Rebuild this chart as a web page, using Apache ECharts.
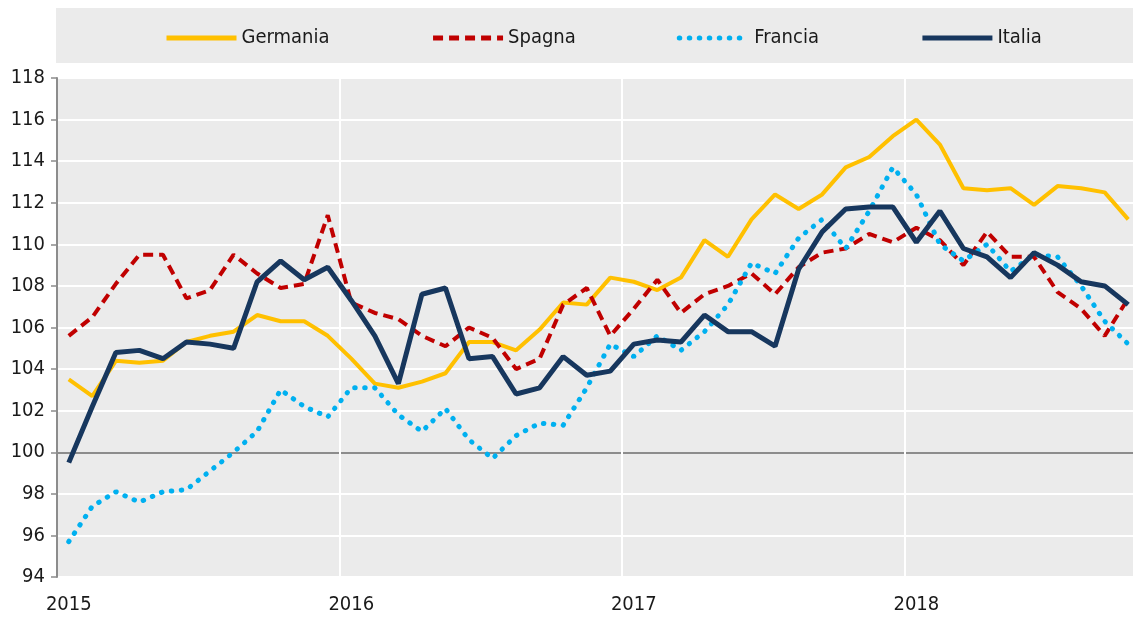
<!DOCTYPE html>
<html>
<head>
<meta charset="utf-8">
<script src="https://cdn.jsdelivr.net/npm/echarts@6/dist/echarts.min.js"></script>
<style>
  html, body { margin: 0; padding: 0; background: #fff; overflow: hidden; }
  #chart { width: 1141px; height: 617px; }
</style>
</head>
<body>
<div id="chart"></div>
<script>
// mesi gen 2015 - ott 2018
var months = [];
for (var y = 2015; y <= 2018; y++) {
  for (var m = 1; m <= 12; m++) {
    if (y === 2018 && m > 10) break;
    months.push(y + '-' + (m < 10 ? '0' + m : m));
  }
}
var yearLabels = ['2015', '2016', '2017', '2018'];

var germania = [103.5, 102.7, 104.4, 104.3, 104.4, 105.3, 105.6, 105.8, 106.6, 106.3, 106.3, 105.6,
  104.5, 103.3, 103.1, 103.4, 103.8, 105.3, 105.3, 104.9, 105.9, 107.2, 107.1, 108.4,
  108.2, 107.8, 108.4, 110.2, 109.4, 111.2, 112.4, 111.7, 112.4, 113.7, 114.2, 115.2,
  116.0, 114.8, 112.7, 112.6, 112.7, 111.9, 112.8, 112.7, 112.5, 111.2];
var spagna = [105.6, 106.5, 108.1, 109.5, 109.5, 107.4, 107.8, 109.5, 108.6, 107.9, 108.1, 111.4,
  107.2, 106.7, 106.4, 105.6, 105.1, 106.0, 105.5, 104.0, 104.5, 107.1, 107.9, 105.6,
  106.9, 108.3, 106.7, 107.6, 108.0, 108.6, 107.6, 108.9, 109.6, 109.8, 110.5, 110.1,
  110.8, 110.2, 109.0, 110.6, 109.4, 109.4, 107.7, 106.9, 105.6, 107.4];
var francia = [95.7, 97.4, 98.1, 97.6, 98.1, 98.2, 99.1, 100.0, 101.0, 103.0, 102.2, 101.7,
  103.1, 103.1, 101.8, 101.0, 102.1, 100.6, 99.7, 100.8, 101.4, 101.3, 103.1, 105.2,
  104.6, 105.6, 104.9, 105.8, 107.1, 109.1, 108.6, 110.3, 111.2, 109.8, 111.6, 113.7,
  112.4, 110.0, 109.2, 110.0, 108.7, 109.5, 109.4, 108.0, 106.3, 105.2];
var italia = [99.5, 102.2, 104.8, 104.9, 104.5, 105.3, 105.2, 105.0, 108.2, 109.2, 108.3, 108.9,
  107.3, 105.6, 103.3, 107.6, 107.9, 104.5, 104.6, 102.8, 103.1, 104.6, 103.7, 103.9,
  105.2, 105.4, 105.3, 106.6, 105.8, 105.8, 105.1, 108.8, 110.6, 111.7, 111.8, 111.8,
  110.1, 111.6, 109.8, 109.4, 108.4, 109.6, 109.0, 108.2, 108.0, 107.1];

var fontFam = '"Liberation Sans Narrow", "Arial Narrow", "DejaVu Sans Condensed", sans-serif';

// linee orizzontali: la 100 in grigio
var splitColors = [];
for (var v = 94; v <= 118; v += 2) splitColors.push(v === 100 ? '#8c8c8c' : '#ffffff');

var option = {
  animation: false,
  backgroundColor: '#fff',
  textStyle: { fontFamily: fontFam },
  graphic: [{
    type: 'rect',
    z: -10,
    shape: { x: 56, y: 8, width: 1090, height: 55 },
    style: { fill: '#ebebeb' }
  }],
  legend: {
    left: 159,
    top: 23,
    itemWidth: 70,
    itemHeight: 20,
    itemGap: 101,
    data: ['Germania', 'Spagna', 'Francia', 'Italia'],
    itemStyle: { opacity: 0 },
    lineStyle: { width: 5 },
    textStyle: { fontSize: 20, color: '#1a1a1a', fontFamily: fontFam }
  },
  grid: {
    left: 57,
    top: 78,
    width: 1083,
    height: 499,
    show: true,
    backgroundColor: '#ebebeb',
    borderWidth: 0
  },
  xAxis: {
    type: 'category',
    data: months,
    boundaryGap: true,
    axisLine: { show: false },
    axisTick: { show: false },
    axisLabel: {
      interval: 11,
      margin: 18,
      fontSize: 20,
      color: '#1a1a1a',
      formatter: function (val, idx) { return yearLabels[Math.floor(idx / 12)]; }
    },
    splitLine: { show: true, interval: 11, lineStyle: { color: '#ffffff', width: 2 } }
  },
  yAxis: {
    type: 'value',
    min: 94,
    max: 118,
    interval: 2,
    axisLine: { show: true, lineStyle: { color: '#8c8c8c', width: 2 } },
    axisTick: { show: true, length: 6, lineStyle: { color: '#8c8c8c', width: 1.5 } },
    axisLabel: { fontSize: 20, color: '#1a1a1a', margin: 12 },
    splitLine: { lineStyle: { color: splitColors, width: 2 } }
  },
  series: [
    {
      name: 'Germania', type: 'line', data: germania, symbol: 'none',
      color: '#ffc000',
      lineStyle: { color: '#ffc000', width: 4 }
    },
    {
      name: 'Spagna', type: 'line', data: spagna, symbol: 'none',
      color: '#c00000',
      lineStyle: { color: '#c00000', width: 4, type: [10, 6] }
    },
    {
      name: 'Francia', type: 'line', data: francia, symbol: 'none',
      color: '#00b0f0',
      lineStyle: { color: '#00b0f0', width: 5, type: [0.5, 9.5], cap: 'round' }
    },
    {
      name: 'Italia', type: 'line', data: italia, symbol: 'none',
      color: '#17375e',
      lineStyle: { color: '#17375e', width: 5 }
    }
  ]
};

var chart = echarts.init(document.getElementById('chart'));
chart.setOption(option);
</script>
</body>
</html>
